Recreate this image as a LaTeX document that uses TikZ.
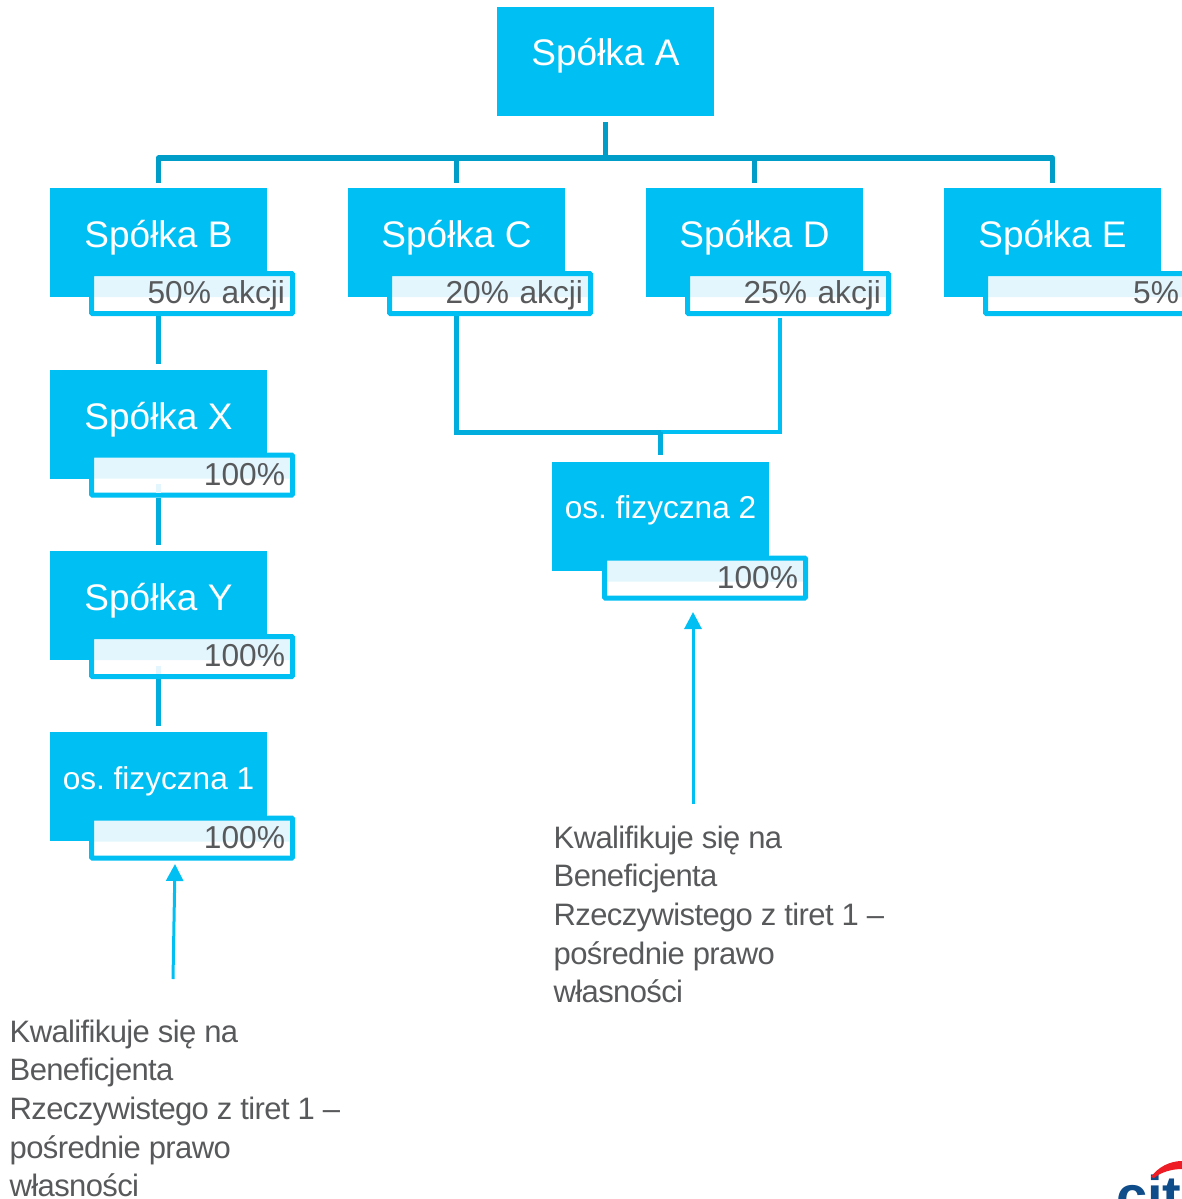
\documentclass[tikz,border=0pt]{standalone}
\usepackage{fontspec}
\setmainfont{Liberation Sans}
\newfontfamily\notefont[LetterSpace=-2.0]{Liberation Sans}
\usetikzlibrary{arrows.meta,positioning}
\definecolor{citicyan}{HTML}{00BFF3}
\definecolor{citiline}{HTML}{009DC9}
\definecolor{citistem}{HTML}{00ADDC}
\definecolor{citigrey}{HTML}{58595B}
\definecolor{cititint}{HTML}{E3F6FD}
\definecolor{citiblue}{HTML}{0F4C8A}
\definecolor{citired}{HTML}{EE1C25}
\frenchspacing
\tikzset{
	company/.style={fill=citicyan,text=white,inner sep=0pt,minimum width=217pt,text height=59pt,text depth=50pt,font=\fontsize{37}{40}\selectfont},
	person/.style={company,font=\fontsize{31.6}{36}\selectfont,text height=57pt,text depth=52pt},
	share/.style={draw=citicyan,line width=5pt,fill=white,rounded corners=1pt,inner xsep=7.5pt,inner ysep=0pt,text width=186pt,align=right,text height=30pt,text depth=10pt,text=citigrey,font=\fontsize{31.7}{36}\selectfont,
		path picture={\fill[cititint] (path picture bounding box.north west) rectangle ([yshift=-3.5pt]path picture bounding box.east);}},
	note/.style={inner sep=0pt,anchor=north west,align=left,text=citigrey,font=\notefont\fontsize{31}{38.7}\selectfont},
	bus/.style={draw=citiline,line width=5.5pt},
	stem/.style={draw=citistem,line width=5pt},
	ghost/.style={draw=cititint,line width=5pt},
	pointer/.style={draw=citicyan,line width=3pt,-{Triangle[width=17pt,length=17pt]}}
}
\begin{document}
\begin{tikzpicture}[x=1pt,y=-1pt]
	\useasboundingbox (0,0) rectangle (1182,1199);
	\clip (0,0) rectangle (1182,1199);
	%% the companies
	\node[company] (spolkaA) at (605.5,61.5) {Spółka A};
	\node[company] (spolkaB) at (158.5,242.5) {Spółka B};
	\node[company] (spolkaC) at (456.5,242.5) {Spółka C};
	\node[company] (spolkaD) at (754.5,242.5) {Spółka D};
	\node[company] (spolkaE) at (1052.5,242.5) {Spółka E};
	\node[company] (spolkaX) at (158.5,424.5) {Spółka X};
	\node[company] (spolkaY) at (158.5,605.5) {Spółka Y};
	\node[person] (osoba1) at (158.5,786.5) {os. fizyczna 1};
	\node[person] (osoba2) at (660.5,516) {os. fizyczna 2};
	%% the shares
	\node[share] (shareB) at (192,293.5) {50\% akcji};
	\node[share] (shareC) at (490,293.5) {20\% akcji};
	\node[share] (shareD) at (788,293.5) {25\% akcji};
	\node[share] (shareE) at (1086,293.5) {5\%};
	\node[share] (shareX) at (192,475) {100\%};
	\node[share] (shareY) at (192,656.5) {100\%};
	\node[share] (share1) at (192,838) {100\%};
	\node[share] (share2) at (705,578) {100\%};
	%% the lines
	\coordinate (busC) at (456.5,158);
	\coordinate (busD) at (754.5,158);
	\coordinate (busB) at (158.5,158);
	\coordinate (busE) at (1052.5,158);
	\coordinate (busA) at (605.5,158);
	\draw[bus] ([yshift=-6pt]spolkaA.south) -- (busA);
	\draw[bus,line join=round] ([yshift=5pt]spolkaB.north) -- (busB) -- (busE) -- ([yshift=5pt]spolkaE.north);
	\draw[bus] (busC) -- ([yshift=5pt]spolkaC.north);
	\draw[bus] (busD) -- ([yshift=5pt]spolkaD.north);
	\draw[stem] (shareB.south-|spolkaB) -- ([yshift=6pt]spolkaX.north);
	\draw[ghost] ([yshift=13.5pt]shareX.south-|spolkaX) -- ([yshift=5pt]shareX.south-|spolkaX);
	\draw[stem] (shareX.south-|spolkaX) -- ([yshift=6pt]spolkaY.north);
	\draw[ghost] ([yshift=13.5pt]shareY.south-|spolkaY) -- ([yshift=5pt]shareY.south-|spolkaY);
	\draw[stem] (shareY.south-|spolkaY) -- ([yshift=6pt]osoba1.north);
	\coordinate (joint) at (660.5,432);
	\draw[stem] (shareC.south-|spolkaC) |- (joint);
	\draw[draw=citicyan,line width=3.5pt] ([xshift=-8pt,yshift=-2pt]shareD.south) |- (joint);
	\draw[stem] (joint) -- ([yshift=6pt]osoba2.north);
	%% the remarks
	\node[note] (note1) at (9.5,1019.5) {Kwalifikuje się na\\Beneficjenta\\Rzeczywistego z tiret 1 –\\pośrednie prawo\\własności};
	\node[note] (note2) at (553.5,825.5) {Kwalifikuje się na\\Beneficjenta\\Rzeczywistego z tiret 1 –\\pośrednie prawo\\własności};
	\coordinate (from1) at (173,979);
	\coordinate (to1) at (175,864);
	\coordinate (from2) at (693,804);
	\coordinate (to2) at (693,612);
	\draw[pointer] (from1) -- (to1);
	\draw[pointer] (from2) -- (to2);
	%% the logo in the corner
	\node[anchor=base west,inner sep=0pt,text=citiblue,font=\fontsize{56}{60}\bfseries\selectfont] (logo) at (1116,1215) {citi};
	\fill[citired] (1151,1177) .. controls (1158,1167) and (1170,1161) .. (1182,1161) -- (1182,1169) .. controls (1172,1169) and (1161,1172) .. (1154,1178) -- cycle;
\end{tikzpicture}
\end{document}
